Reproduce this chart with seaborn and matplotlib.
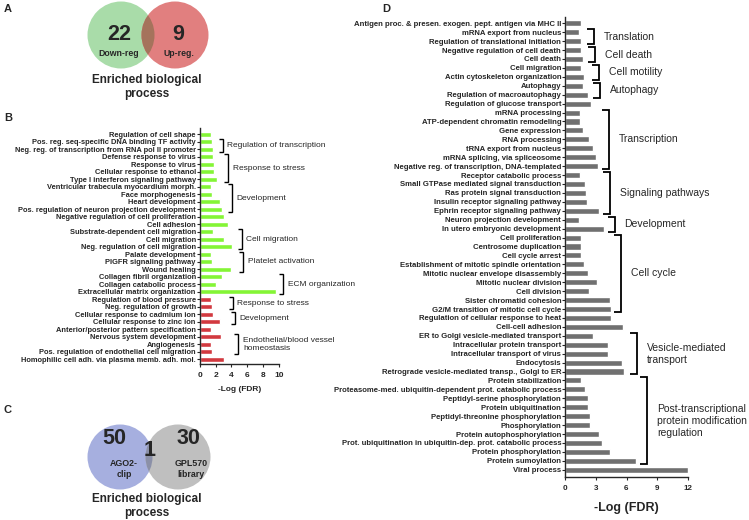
import matplotlib
matplotlib.use('Agg')
import matplotlib.pyplot as plt
import seaborn as sns
import pandas as pd
from matplotlib.patches import Circle

# ---------------- data ----------------
venn_a_counts = [22, 9]
venn_a_labels = ['Down-reg', 'Up-reg.']
venn_c_counts = [50, 1, 30]
venn_c_labels = ['AGO2-\nclip', 'GPL570\nlibrary']
venn_title = 'Enriched biological\nprocess'

b_terms = [
    'Regulation of cell shape',
    'Pos. reg. seq-specific DNA binding TF activity',
    'Neg. reg. of transcription from RNA pol II promoter',
    'Defense response to virus',
    'Response to virus',
    'Cellular response to ethanol',
    'Type I interferon signaling pathway',
    'Ventricular trabecula myocardium morph.',
    'Face morphogenesis',
    'Heart development',
    'Pos. regulation of neuron projection development',
    'Negative regulation of cell proliferation',
    'Cell adhesion',
    'Substrate-dependent cell migration',
    'Cell migration',
    'Neg. regulation of cell migration',
    'Palate development',
    'PIGFR signaling pathway',
    'Wound healing',
    'Collagen fibril organization',
    'Collagen catabolic process',
    'Extracellular matrix organization',
    'Regulation of blood pressure',
    'Neg. regulation of growth',
    'Cellular response to cadmium ion',
    'Cellular response to zinc ion',
    'Anterior/posterior pattern specification',
    'Nervous system development',
    'Angiogenesis',
    'Pos. regulation of endothelial cell migration',
    'Homophilic cell adh. via plasma memb. adh. mol.',
]
b_values = [1.4, 1.5, 1.7, 1.7, 1.75, 1.75, 2.1, 1.45, 1.5, 2.6, 2.8, 3.05,
            3.55, 1.65, 3.05, 4.1, 1.45, 1.55, 4.0, 2.8, 2.05, 9.65,
            1.35, 1.5, 1.7, 2.6, 1.4, 2.7, 1.4, 1.5, 3.0]
b_direction = ['Down-reg'] * 22 + ['Up-reg.'] * 9
b_groups = ['Regulation of transcription', 'Response to stress', 'Development',
            'Cell migration', 'Platelet activation', 'ECM organization',
            'Response to stress', 'Development',
            'Endothelial/blood vessel\nhomeostasis']
b_group_rows = [(1, 2), (3, 6), (7, 10), (13, 15), (16, 18), (19, 21),
                (22, 23), (24, 25), (27, 29)]

d_terms = [
    'Antigen proc. & presen. exogen. pept. antigen via MHC II',
    'mRNA export from nucleus',
    'Regulation of translational initiation',
    'Negative regulation of cell death',
    'Cell death',
    'Cell migration',
    'Actin cytoskeleton organization',
    'Autophagy',
    'Regulation of macroautophagy',
    'Regulation of glucose transport',
    'mRNA processing',
    'ATP-dependent chromatin remodeling',
    'Gene expression',
    'RNA processing',
    'tRNA export from nucleus',
    'mRNA splicing, via spliceosome',
    'Negative reg. of transcription, DNA-templated',
    'Receptor catabolic process',
    'Small GTPase mediated signal transduction',
    'Ras protein signal transduction',
    'Insulin receptor signaling pathway',
    'Ephrin receptor signaling pathway',
    'Neuron projection development',
    'In utero embryonic development',
    'Cell proliferation',
    'Centrosome duplication',
    'Cell cycle arrest',
    'Establishment of mitotic spindle orientation',
    'Mitotic nuclear envelope disassembly',
    'Mitotic nuclear division',
    'Cell division',
    'Sister chromatid cohesion',
    'G2/M transition of mitotic cell cycle',
    'Regulation of cellular response to heat',
    'Cell-cell adhesion',
    'ER to Golgi vesicle-mediated transport',
    'Intracellular protein transport',
    'Intracellular transport of virus',
    'Endocytosis',
    'Retrograde vesicle-mediated transp., Golgi to ER',
    'Protein stabilization',
    'Proteasome-med. ubiquitin-dependent prot. catabolic process',
    'Peptidyl-serine phosphorylation',
    'Protein ubiquitination',
    'Peptidyl-threonine phosphorylation',
    'Phosphorylation',
    'Protein autophosphorylation',
    'Prot. ubiquitination in ubiquitin-dep. prot. catabolic process',
    'Protein phosphorylation',
    'Protein sumoylation',
    'Viral process',
]
d_values = [1.5, 1.35, 1.5, 1.5, 1.7, 1.5, 1.85, 1.7, 2.2, 2.5,
            1.45, 1.45, 1.75, 2.3, 2.7, 3.0, 3.2,
            1.4, 1.9, 2.0, 2.1, 3.3,
            1.3, 3.75,
            1.55, 1.5, 1.55, 1.85, 2.2, 3.15, 2.35, 4.4, 4.45,
            4.45, 5.7,
            2.7, 4.15, 4.2, 5.6, 5.8,
            1.5, 1.95, 2.2, 2.25, 2.4, 2.45, 3.35, 3.55, 4.4, 6.95,
            12.0]
d_groups = ['Translation', 'Cell death', 'Cell motility', 'Autophagy',
            'Transcription', 'Signaling pathways', 'Development', 'Cell cycle',
            'Vesicle-mediated\ntransport',
            'Post-transcriptional\nprotein modification\nregulation']
d_group_rows = [(1, 2), (3, 4), (5, 6), (7, 8), (10, 16), (17, 21), (22, 23),
                (24, 32), (35, 39), (40, 49)]

# ---------------- style / layout ----------------
GREEN = '#84f536'
RED = '#d2393f'
GREY = '#707070'

sns.set_theme(style='ticks')
plt.rcParams['font.family'] = ['Liberation Sans', 'DejaVu Sans']
plt.rcParams['axes.linewidth'] = 1.0

W, H = 749, 520
fig = plt.figure(figsize=(W / 100, H / 100), dpi=100)


def px_axes(l, t, r, b):
    return fig.add_axes([l / W, 1 - b / H, (r - l) / W, (b - t) / H])


ov = fig.add_axes([0, 0, 1, 1])
ov.set_xlim(0, W)
ov.set_ylim(H, 0)
ov.axis('off')

# panel letters
for letter, (x, y) in zip('ABCD', [(4, 9), (4, 118), (4, 410), (382, 9)]):
    ov.text(x, y, letter, fontsize=8, fontweight='bold', ha='left', va='center')


def venn(cx1, cx2, cy, r, c1, c2, c12):
    a = Circle((cx1, cy), r, facecolor=c1, edgecolor='none')
    b = Circle((cx2, cy), r, facecolor=c2, edgecolor='none')
    ov.add_patch(a)
    ov.add_patch(b)
    inter = Circle((cx2, cy), r, facecolor=c12, edgecolor='none')
    ov.add_patch(inter)
    inter.set_clip_path(a)


# Venn A
venn(121, 175, 35, 33.5, '#a9dca9', '#e17f7f', '#a5735c')
ov.text(119, 34, str(venn_a_counts[0]), fontsize=15.5, fontweight='bold', ha='center', va='center')
ov.text(178, 34, str(venn_a_counts[1]), fontsize=15.5, fontweight='bold', ha='center', va='center')
ov.text(119, 53.5, venn_a_labels[0], fontsize=6.3, fontweight='bold', ha='center', va='center')
ov.text(179, 53.5, venn_a_labels[1], fontsize=6.3, fontweight='bold', ha='center', va='center')
ov.text(147, 87, venn_title, fontsize=8.5, fontweight='bold', ha='center', va='center', linespacing=1.15)

# Venn C
venn(120, 178, 457, 32.5, '#a6afdf', '#bfbfbf', '#8b90a8')
ov.text(114, 439, str(venn_c_counts[0]), fontsize=15.5, fontweight='bold', ha='center', va='center')
ov.text(150, 450, str(venn_c_counts[1]), fontsize=15.5, fontweight='bold', ha='center', va='center')
ov.text(188, 439, str(venn_c_counts[2]), fontsize=15.5, fontweight='bold', ha='center', va='center')
ov.text(124, 469, venn_c_labels[0], fontsize=6.4, fontweight='bold', ha='center', va='center', linespacing=1.3)
ov.text(191, 469, venn_c_labels[1], fontsize=6.4, fontweight='bold', ha='center', va='center', linespacing=1.3)
ov.text(147, 506, venn_title, fontsize=8.5, fontweight='bold', ha='center', va='center', linespacing=1.15)


def bar_panel(ax, terms, values, hue, palette, xticks, label_fs,
              tick_fs, xlabel_fs, tick_pad, label_pad):
    df = pd.DataFrame({'term': terms, 'val': values, 'dir': hue})
    sns.barplot(data=df, x='val', y='term', hue='dir', palette=palette,
                orient='h', dodge=False, width=0.68, saturation=1,
                legend=False, ax=ax)
    sns.despine(ax=ax)
    ax.set_ylabel('')
    ax.set_xlabel('-Log (FDR)', fontsize=xlabel_fs, fontweight='bold', labelpad=label_pad)
    ax.set_xticks(xticks)
    ax.tick_params(axis='y', length=2.2, width=0.8, labelsize=label_fs, pad=0.8)
    ax.tick_params(axis='x', length=2.5, width=0.8, labelsize=tick_fs, pad=tick_pad)
    for t in ax.get_yticklabels() + ax.get_xticklabels():
        t.set_fontweight('bold')


def bracket(ax, r0, r1, x, label, serif, pad, fs, lw):
    y0, y1 = r0 - 0.33, r1 + 0.33
    ax.plot([x - serif, x, x, x - serif], [y0, y0, y1, y1], color='black',
            lw=lw, clip_on=False, solid_joinstyle='miter', solid_capstyle='butt')
    ax.text(x + pad, (r0 + r1) / 2, label, ha='left', va='center', fontsize=fs,
            linespacing=1.25)


# Panel B
axb = px_axes(200, 128.3, 278.7, 364.3)
bar_panel(axb, b_terms, b_values, b_direction, {'Down-reg': GREEN, 'Up-reg.': RED},
          [0, 2, 4, 6, 8, 10], 5.45, 6, 6, 3, 5)
b_bracket_x = [2.88, 3.56, 4.03, 5.3, 5.46, 10.58, 4.15, 4.45, 4.87]
for name, (r0, r1), bx in zip(b_groups, b_group_rows, b_bracket_x):
    bracket(axb, r0, r1, bx, name, 0.5, 0.6, 6, 1.0)
axb.set_xlim(0, 10)
axb.set_ylim(30.67, -0.8)

# Panel D
axd = px_axes(565.3, 17, 687.7, 476.7)
bar_panel(axd, d_terms, d_values, ['all'] * len(d_terms), {'all': GREY},
          [0, 3, 6, 9, 12], 5.55, 5.8, 9, 3.5, 7)
d_bracket_x = [2.8, 2.9, 3.3, 3.4, 4.27, 4.37, 4.85, 5.5, 7.03, 8.05]
for name, (r0, r1), bx in zip(d_groups, d_group_rows, d_bracket_x):
    bracket(axd, r0, r1, bx, name, 0.7, 0.95, 7.5, 1.3)
axd.set_xlim(0, 12)
axd.set_ylim(50.78, -0.7)

fig.savefig('out.png', dpi=100)
